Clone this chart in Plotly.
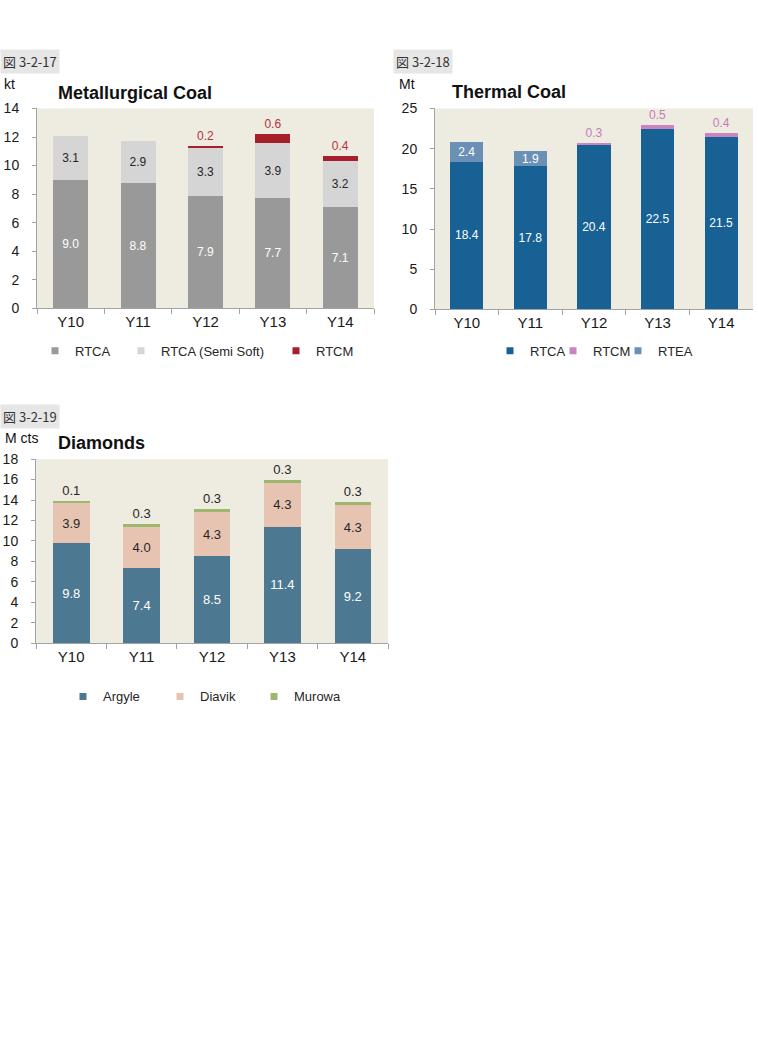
import plotly.graph_objects as go

W, H = 758, 1062

# ---------------- data ----------------
years = ["Y10", "Y11", "Y12", "Y13", "Y14"]

# Metallurgical Coal (kt)
met_rtca = [9.0, 8.8, 7.9, 7.7, 7.1]
met_rtca_semi = [3.1, 2.9, 3.3, 3.9, 3.2]
met_rtcm = [None, None, 0.2, 0.6, 0.4]

# Thermal Coal (Mt)
th_rtca = [18.4, 17.8, 20.4, 22.5, 21.5]
th_rtcm = [None, None, 0.3, 0.5, 0.4]
th_rtea = [2.4, 1.9, None, None, None]

# Diamonds (M cts)
dia_argyle = [9.8, 7.4, 8.5, 11.4, 9.2]
dia_diavik = [3.9, 4.0, 4.3, 4.3, 4.3]
dia_murowa = [0.1, 0.3, 0.3, 0.3, 0.3]

met_ticks = [0, 2, 4, 6, 8, 10, 12, 14]
th_ticks = [0, 5, 10, 15, 20, 25]
dia_ticks = [0, 2, 4, 6, 8, 10, 12, 14, 16, 18]

# ---------------- helpers ----------------
def fx(p):
    return p / W

def fy(p):
    return 1 - p / H

FONT = "Liberation Sans, Arial, sans-serif"
BG = "#EEEBE1"
AX = "#A3A3A3"

fig = go.Figure()


def bar(name, x, y, color, xa, ya, textcolor, pos, size, legend, lw):
    fig.add_trace(go.Bar(
        name=name, x=x, y=y, xaxis=xa, yaxis=ya,
        marker=dict(color=color, line=dict(width=0)),
        texttemplate="%{y:.1f}", textposition=pos,
        insidetextanchor="middle", textangle=0, constraintext="none",
        textfont=dict(color=textcolor, size=size, family=FONT),
        outsidetextfont=dict(color=textcolor, size=size, family=FONT),
        insidetextfont=dict(color=textcolor, size=size, family=FONT),
        showlegend=False, hoverinfo="skip", cliponaxis=False,
    ))
    # legend proxy with small square symbol
    fig.add_trace(go.Scatter(
        name=name, x=[None], y=[None], xaxis=xa, yaxis=ya, mode="markers",
        marker=dict(symbol="square", size=7, color=color),
        legend=legend, legendwidth=lw, showlegend=True, hoverinfo="skip",
    ))


# Chart 1
bar("RTCA", years, met_rtca, "#999999", "x", "y", "#FFFFFF", "inside", 12, "legend", 41)
bar("RTCA (Semi Soft)", years, met_rtca_semi, "#D5D5D5", "x", "y", "#262626", "inside", 12, "legend", 110)
bar("RTCM", years, met_rtcm, "#A61F2B", "x", "y", "#B8323D", "outside", 12, "legend", None)

# Chart 2
bar("RTCA", years, th_rtca, "#176195", "x2", "y2", "#FFFFFF", "inside", 12, "legend2", 18)
bar("RTCM", years, th_rtcm, "#C985C0", "x2", "y2", "#C57DB9", "outside", 12, "legend2", 20)
bar("RTEA", years, th_rtea, "#6A91B5", "x2", "y2", "#FFFFFF", "inside", 12, "legend2", None)

# Chart 3
bar("Argyle", years, dia_argyle, "#4C7892", "x3", "y3", "#FFFFFF", "inside", 13, "legend3", 52)
bar("Diavik", years, dia_diavik, "#E6C4B1", "x3", "y3", "#262626", "inside", 13, "legend3", 49)
bar("Murowa", years, dia_murowa, "#9DB86E", "x3", "y3", "#262626", "outside", 13, "legend3", None)


def xax(dom, anchor, size):
    return dict(domain=dom, anchor=anchor, type="category", showline=True,
                linecolor=AX, linewidth=1, ticks="outside", tickson="boundaries",
                ticklen=5, tickcolor=AX, showgrid=False, zeroline=False,
                tickfont=dict(size=size, color="#1A1A1A", family=FONT),
                fixedrange=True)


def yax(dom, anchor, rng, ticks):
    return dict(domain=dom, anchor=anchor, range=rng, tickvals=ticks,
                showline=True, linecolor=AX, linewidth=1, ticks="outside",
                ticklen=4, tickcolor=AX, showgrid=False, zeroline=False,
                tickfont=dict(size=14, color="#1A1A1A", family=FONT),
                ticklabelstandoff=10, fixedrange=True)


def legend(x, y):
    return dict(orientation="h", x=fx(x), y=fy(y), xanchor="left", yanchor="middle",
                font=dict(size=13, color="#262626", family=FONT),
                bgcolor="rgba(0,0,0,0)", itemwidth=30, traceorder="normal",
                itemclick=False, itemdoubleclick=False)


annotations = []


def label_box(text, x, y):
    annotations.append(dict(
        text=text, x=fx(x), y=fy(y), xref="paper", yref="paper",
        xanchor="left", yanchor="middle", showarrow=False,
        font=dict(size=13, color="#333333", family="Noto Sans CJK JP"),
        bgcolor="#E6E6E6", borderpad=2,
    ))


def text(t, x, y, size, bold=False):
    annotations.append(dict(
        text=("<b>%s</b>" % t) if bold else t, x=fx(x), y=fy(y),
        xref="paper", yref="paper", xanchor="left", yanchor="middle",
        showarrow=False, font=dict(size=size, color="#111111", family=FONT),
    ))


label_box("図 3-2-17", 0, 54)
label_box("図 3-2-18", 393, 54)
label_box("図 3-2-19", 0, 415)
text("kt", 2, 77, 14)
text("Mt", 397, 77, 14)
text("M cts", 3, 437, 14)
text("Metallurgical Coal", 56, 86, 18, True)
text("Thermal Coal", 450, 85, 18, True)
text("Diamonds", 56, 442, 18, True)

fig.update_layout(
    width=W, height=H, margin=dict(l=0, r=0, t=0, b=0),
    paper_bgcolor="#FFFFFF", plot_bgcolor=BG,
    barmode="stack", bargap=0.48,
    font=dict(family=FONT),
    xaxis=xax([fx(37), fx(374)], "y", 15),
    yaxis=yax([fy(305), fy(102)], "x", [0, 14], met_ticks),
    xaxis2=xax([fx(435), fx(753)], "y2", 15),
    yaxis2=yax([fy(306), fy(102)], "x2", [0, 25], th_ticks),
    xaxis3=xax([fx(36), fx(388)], "y3", 15),
    yaxis3=yax([fy(645), fy(458)], "x3", [0, 18], dia_ticks),
    legend=legend(35, 348),
    legend2=legend(490, 348),
    legend3=legend(63, 699),
    annotations=annotations,
    showlegend=True,
)

fig.write_html("out.html")
